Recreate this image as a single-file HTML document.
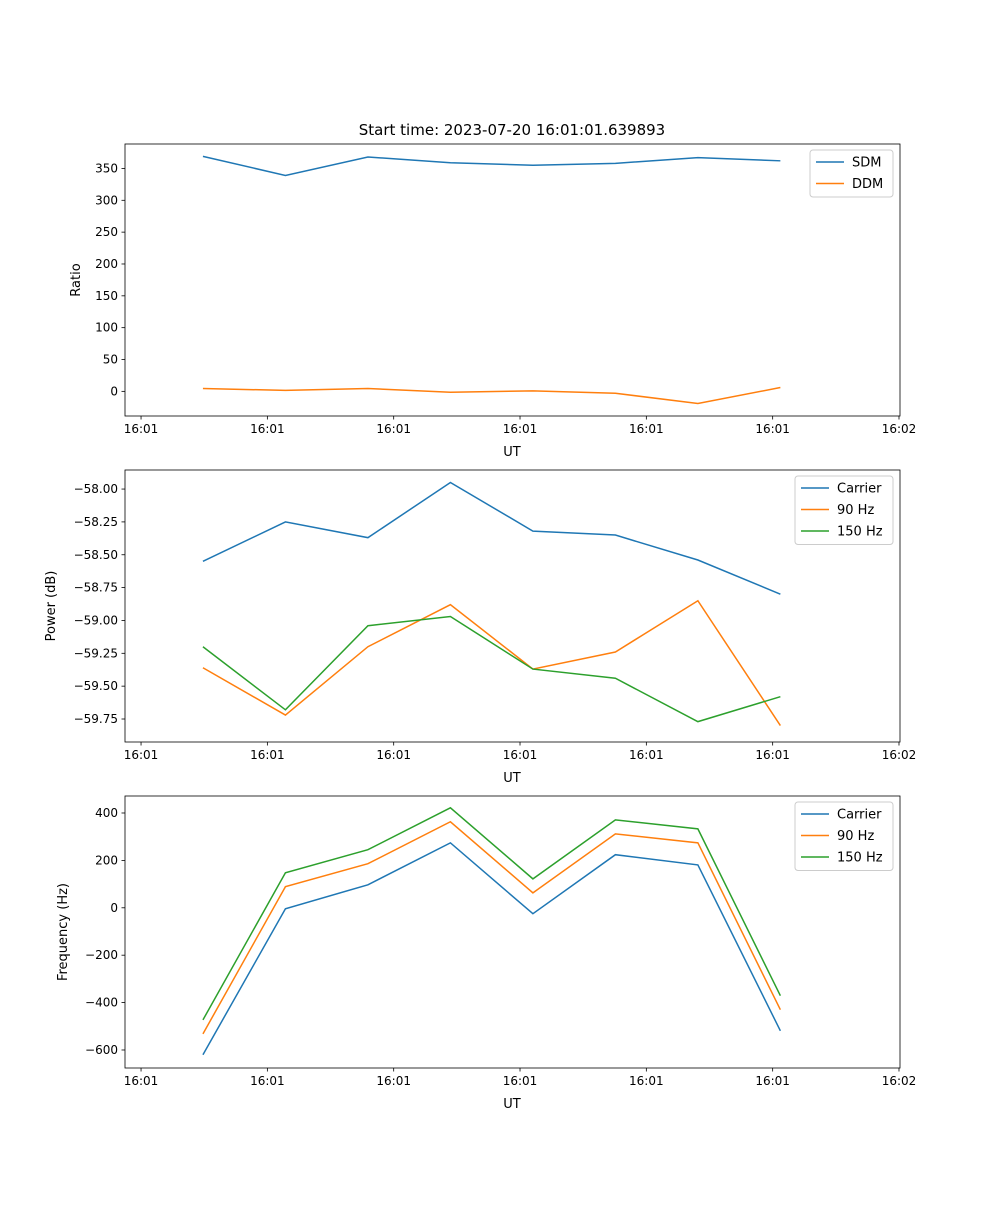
<!DOCTYPE html>
<html><head><meta charset="utf-8"><style>
body{margin:0;background:#fff}
svg{font-family:"DejaVu Sans","Liberation Sans",sans-serif}
</style></head><body>
<svg id="fig" width="1000" height="1200" viewBox="0 0 1000 1200">
<text x="512" y="135" font-size="15" text-anchor="middle">Start time: 2023-07-20 16:01:01.639893</text>
</svg>
<script>
// time offsets in seconds (ticks every 10 s)
const times = [4.9, 11.43, 17.96, 24.49, 31.02, 37.55, 44.08, 50.61];
const xTickVals = [0,10,20,30,40,50,60];
const xTickLabels = ["16:01","16:01","16:01","16:01","16:01","16:01","16:02"];
const sdm = [369, 339, 368, 359, 355, 358, 367, 362];
const ddm = [4.5, 1.5, 4.5, -1.5, 0.8, -3, -19, 6];
const powCarrier = [-58.55, -58.25, -58.37, -57.95, -58.32, -58.35, -58.54, -58.80];
const pow90 = [-59.36, -59.72, -59.20, -58.88, -59.37, -59.24, -58.85, -59.80];
const pow150 = [-59.20, -59.68, -59.04, -58.97, -59.37, -59.44, -59.77, -59.58];
const freqCarrier = [-620, -4, 97, 274, -25, 224, 181, -519];
const freq90 = [-532, 89, 186, 363, 63, 312, 274, -430];
const freq150 = [-473, 148, 245, 422, 122, 371, 333, -371];
const ratioTicks = [0,50,100,150,200,250,300,350];
const powTicks = [-59.75,-59.5,-59.25,-59,-58.75,-58.5,-58.25,-58];
const powTickLabels = ["\u221259.75","\u221259.50","\u221259.25","\u221259.00","\u221258.75","\u221258.50","\u221258.25","\u221258.00"];
const freqTicks = [-600,-400,-200,0,200,400];
const freqTickLabels = ["\u2212600","\u2212400","\u2212200","0","200","400"];

const NS="http://www.w3.org/2000/svg";
const svg=document.getElementById('fig');
const L=125,R=900,xMin=-1.27,xMax=60.08;
function xs(t){return L+(t-xMin)/(xMax-xMin)*(R-L);}
function mk(tag,attrs,parent){const e=document.createElementNS(NS,tag);for(const k in attrs)e.setAttribute(k,attrs[k]);(parent||svg).appendChild(e);return e;}
const C=["#1f77b4","#ff7f0e","#2ca02c"];

function panel(id,top,bot,yMin,yMax,yt,ytl,series,names,ylabel,ylx,legW,legX){
  const g=mk('g',{});
  
  
  const ys=v=>bot-(v-yMin)/(yMax-yMin)*(bot-top);
  series.forEach((s,i)=>{
    const p=mk('polyline',{points:s.map((v,j)=>xs(times[j])+','+ys(v)).join(' '),fill:'none',stroke:C[i],'stroke-width':1.5},g);
    
    
  });
  const fr=mk('rect',{x:L,y:top,width:R-L,height:bot-top,fill:'none',stroke:'#000','stroke-width':0.8},g);
  
  
  xTickVals.forEach((t,i)=>{
    const x=xs(t);
    mk('line',{x1:x,x2:x,y1:bot,y2:bot+3.5,stroke:'#000','stroke-width':0.8},g);
    const tx=mk('text',{x:x,y:bot+17,'font-size':12,'text-anchor':'middle'},g);
    tx.textContent=xTickLabels[i];
    
    
  });
  yt.forEach((v,i)=>{
    const y=ys(v);
    mk('line',{x1:L-3.5,x2:L,y1:y,y2:y,stroke:'#000','stroke-width':0.8},g);
    const tx=mk('text',{x:L-7,y:y+4,'font-size':12,'text-anchor':'end'},g);
    tx.textContent=ytl[i];
    
    
  });
  const xl=mk('text',{x:512,y:bot+40,'font-size':13,'text-anchor':'middle'},g);
  xl.textContent='UT';
  
  
  const cy=(top+bot)/2;
  const yl=mk('text',{x:ylx,y:cy,'font-size':13,'text-anchor':'middle',transform:'rotate(-90 '+ylx+' '+cy+')'},g);
  yl.textContent=ylabel;
  
  
  const lg=mk('g',{},g);
  
  
  mk('rect',{x:legX,y:top+6,width:legW,height:names.length*21.5+4,fill:'#fff',stroke:'#ccc',rx:3},lg);
  names.forEach((n,i)=>{
    const y=top+18+i*21.5;
    mk('line',{x1:legX+6,x2:legX+34,y1:y,y2:y,stroke:C[i],'stroke-width':1.5},lg);
    const t=mk('text',{x:legX+42,y:y+4.5,'font-size':13},lg);
    t.textContent=n;
    
    
  });
}
panel('ratio',144,416,-38.7,388.4,ratioTicks,ratioTicks.map(String),[sdm,ddm],['SDM','DDM'],'Ratio',80,83,810);
panel('power',470,742,-59.925,-57.855,powTicks,powTickLabels,[powCarrier,pow90,pow150],['Carrier','90 Hz','150 Hz'],'Power (dB)',55,98,795);
panel('frequency',796,1068,-676,471.7,freqTicks,freqTickLabels,[freqCarrier,freq90,freq150],['Carrier','90 Hz','150 Hz'],'Frequency (Hz)',67,98,795);
</script>
</body></html>
